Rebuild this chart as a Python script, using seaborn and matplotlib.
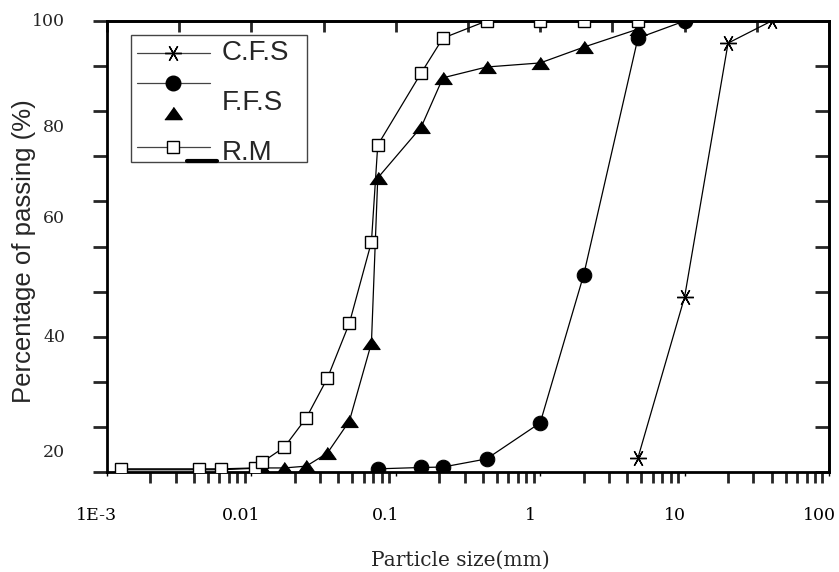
import numpy as np
import pandas as pd
import matplotlib
matplotlib.use("Agg")
import matplotlib.pyplot as plt
import matplotlib.transforms as mtrans
from matplotlib.lines import Line2D
from matplotlib.patches import Rectangle
import seaborn as sns

# ---------------- data ----------------
cfs_size = [4.75, 10, 20, 40]
cfs_pass = [3.1, 38.8, 95.1, 100]

circ_size = [0.075, 0.15, 0.212, 0.425, 1.0, 2.0, 4.75, 10]
circ_pass = [0.7, 1.0, 1.1, 2.9, 10.9, 43.7, 96.2, 100]

ffs_size = [0.00125, 0.00435, 0.0062, 0.0119, 0.0169, 0.024, 0.0336, 0.0477,
            0.0678, 0.075, 0.15, 0.212, 0.425, 1.0, 2.0, 4.75]
ffs_pass = [0.5, 0.5, 0.5, 0.9, 0.9, 1.3, 4.2, 11.3,
            28.6, 65.2, 76.5, 87.4, 89.8, 90.7, 94.2, 98.2]

rm_size = [0.00125, 0.00435, 0.0062, 0.0106, 0.0119, 0.0169, 0.024, 0.0336,
           0.0477, 0.0678, 0.075, 0.15, 0.212, 0.425, 1.0, 2.0, 4.75]
rm_pass = [0.7, 0.7, 0.7, 0.9, 2.2, 5.5, 12.0, 20.8,
           33.0, 51.0, 72.5, 88.5, 96.2, 100, 100, 100, 100]

xtick_vals = [1e-3, 1e-2, 1e-1, 1, 10, 100]
xtick_labels = ["1E-3", "0.01", "0.1", "1", "10", "100"]
ytick_labels = ["100", "80", "60", "40", "20"]
ytick_label_pos = [100, 76.3, 56.3, 29.9, 4.4]

# ---------------- style ----------------
sns.set_style("ticks")
plt.rcParams["font.family"] = ["DejaVu Serif", "DejaVu Sans"]

fig = plt.figure(figsize=(8.39, 5.72), dpi=100)
ax = fig.add_axes([107 / 839, 1 - 472 / 572, 722 / 839, 451 / 572])

tri = [(-1, -0.7), (1, -0.7), (0, 0.7)]
line_kw = dict(color="black", lw=0.9, estimator=None, sort=False, legend=False, ax=ax)

sns.lineplot(x=cfs_size, y=cfs_pass, marker=(6, 2, 90), markersize=12,
             markeredgecolor="black", markeredgewidth=1.0, zorder=4, **line_kw)
sns.lineplot(x=circ_size, y=circ_pass, marker="o", markersize=10.5,
             markerfacecolor="black", markeredgecolor="black", zorder=3, **line_kw)
sns.lineplot(x=ffs_size, y=ffs_pass, marker=tri, markersize=12.5,
             markerfacecolor="black", markeredgecolor="black", zorder=3, **line_kw)
sns.lineplot(x=rm_size, y=rm_pass, marker="s", markersize=8.5,
             markerfacecolor="white", markeredgecolor="black", markeredgewidth=1.0,
             zorder=5, **line_kw)

ax.set_xscale("log")
ax.set_xlim(1e-3, 100)
ax.set_ylim(0, 100)

for s in ax.spines.values():
    s.set_linewidth(2)
    s.set_color("black")

# x ticks
ax.set_xticks(xtick_vals)
ax.set_xticklabels(xtick_labels, fontsize=12.5)
ax.xaxis.set_minor_locator(matplotlib.ticker.LogLocator(base=10, subs=np.arange(2, 10)))
ax.xaxis.set_minor_formatter(matplotlib.ticker.NullFormatter())
ax.tick_params(axis="x", which="major", direction="out", length=3, width=1,
               pad=22, top=False, colors="black")
ax.tick_params(axis="x", which="minor", direction="out", length=8, width=2,
               top=False)
offset = mtrans.ScaledTranslation(-10 / 100, 0, fig.dpi_scale_trans)
for lab in ax.get_xticklabels():
    lab.set_transform(lab.get_transform() + offset)

# top ticks every half decade
sec = ax.secondary_xaxis("top")
sec.set_xticks([10 ** (k / 2) for k in range(-6, 5)])
sec.xaxis.set_minor_locator(matplotlib.ticker.NullLocator())
sec.set_xticklabels([])
sec.tick_params(axis="x", direction="in", length=8, width=2)
sec.spines["top"].set_linewidth(2)

# y ticks
ax.set_yticks(np.arange(0, 101, 10))
ax.set_yticklabels([])
ax.tick_params(axis="y", which="major", left=True, right=False, direction="out",
               length=10, width=2)
secy = ax.secondary_yaxis("right")
secy.set_yticks(np.arange(0, 101, 10))
secy.set_yticklabels([])
secy.tick_params(axis="y", direction="in", length=10, width=2)
secy.spines["right"].set_linewidth(2)

ytrans = mtrans.blended_transform_factory(ax.transAxes, ax.transData)
for lab, pos in zip(ytick_labels, ytick_label_pos):
    ax.text((65 - 107) / 722, pos, lab, transform=ytrans, ha="right", va="center",
            fontsize=12.5, clip_on=False)

ax.set_ylabel("Percentage of passing (%)", family=["Liberation Sans", "DejaVu Sans"],
              fontsize=18.5)
ax.yaxis.set_label_coords((36 - 107) / 722, 0.49)
ax.set_xlabel("Particle size(mm)", fontsize=14.5)
ax.xaxis.set_label_coords(0.49, (472 - 551) / 451)

# ---------------- legend (manual, mimicking the original box) ----------------
def axx(px):
    return (px - 107) / 722


def axy(py):
    return (472 - py) / 451


ax.add_patch(Rectangle((axx(131), axy(162)), axx(307) - axx(131), axy(35) - axy(162),
                       transform=ax.transAxes, facecolor="white", edgecolor="#444444",
                       lw=1.0, zorder=6))
rows = [axy(53), axy(83), axy(113), axy(147)]
lx = [axx(137), axx(210)]
mx = axx(173)
lg_line = dict(color="#444444", lw=0.9, transform=ax.transAxes, zorder=7)
ax.add_line(Line2D(lx, [rows[0]] * 2, **lg_line))
ax.add_line(Line2D([mx], [rows[0]], marker=(6, 2, 90), markersize=12, color="black",
                   mew=1.0, transform=ax.transAxes, zorder=8))
ax.add_line(Line2D(lx, [rows[1]] * 2, **lg_line))
ax.add_line(Line2D([mx], [rows[1]], marker="o", markersize=10.5, color="black",
                   transform=ax.transAxes, zorder=8))
ax.add_line(Line2D([mx], [rows[2]], marker=tri, markersize=12.5, color="black",
                   transform=ax.transAxes, zorder=8))
ax.add_line(Line2D(lx, [rows[3]] * 2, **lg_line))
ax.add_line(Line2D([mx], [rows[3]], marker="s", markersize=8.5, markerfacecolor="white",
                   markeredgecolor="black", mew=1.0, transform=ax.transAxes, zorder=8))
ax.add_line(Line2D([axx(187), axx(217)], [axy(161)] * 2, color="black", lw=3,
                   transform=ax.transAxes, zorder=8))

lg_font = dict(family=["Liberation Sans", "DejaVu Sans"], fontsize=20,
               transform=ax.transAxes, va="center", ha="left", zorder=9)
ax.text(axx(222), axy(53), "C.F.S", **lg_font)
ax.text(axx(222), axy(103), "F.F.S", **lg_font)
ax.text(axx(222), axy(153), "R.M", **lg_font)

fig.savefig("out.png", dpi=100)
